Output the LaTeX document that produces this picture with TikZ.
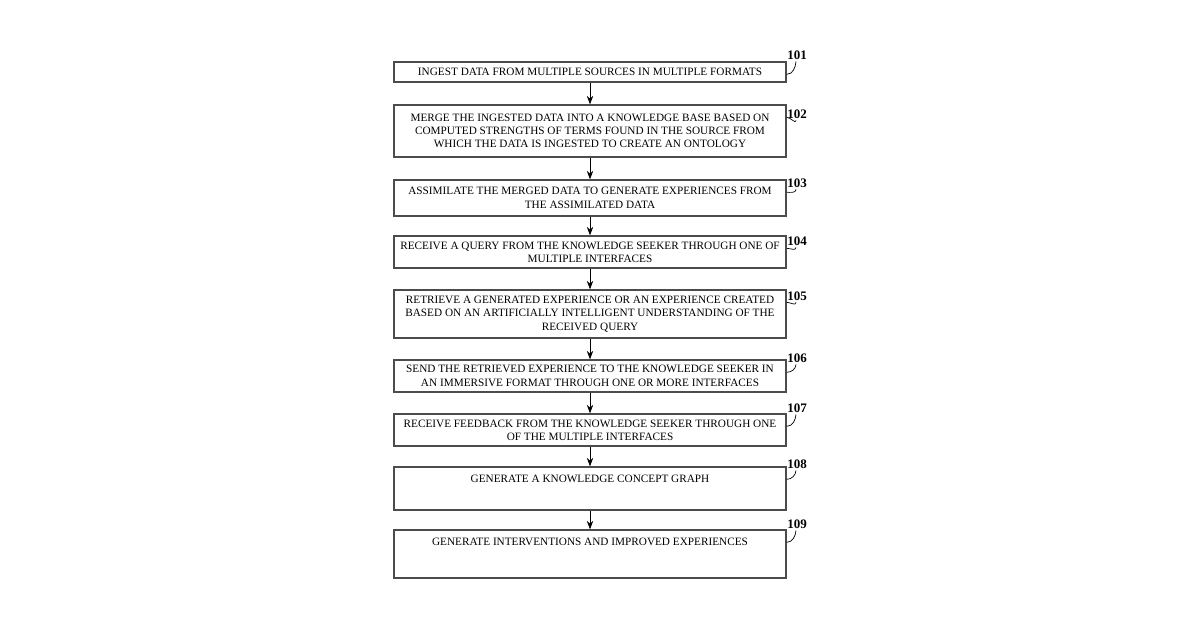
\documentclass[tikz,border=0pt]{standalone}
\usepackage{fontspec}
\setmainfont{Liberation Serif}
\usetikzlibrary{arrows.meta,positioning}
\tikzset{
  stepbox/.style = {draw=black!70, thick, minimum width=7.84cm, inner sep=0pt,
    align=center, font=\fontsize{6.4}{7.6}\selectfont},
  ref/.style = {font=\fontsize{7.4}{8}\selectfont\bfseries, inner sep=1pt},
  leader/.style = {-, thin}
}
\begin{document}
\begin{tikzpicture}[x=0.02cm,y=-0.02cm,>=Stealth]
\useasboundingbox (0,0) rectangle (1200,630);
\node [stepbox, minimum height=0.40cm] (s1) at (590,72) {INGEST DATA FROM MULTIPLE SOURCES IN MULTIPLE FORMATS};
\node [stepbox, minimum height=1.04cm] (s2) at (590,131) {MERGE THE INGESTED DATA INTO A KNOWLEDGE BASE BASED ON\\COMPUTED STRENGTHS OF TERMS FOUND IN THE SOURCE FROM\\WHICH THE DATA IS INGESTED TO CREATE AN ONTOLOGY};
\node [stepbox, minimum height=0.72cm] (s3) at (590,198) {ASSIMILATE THE MERGED DATA TO GENERATE EXPERIENCES FROM\\THE ASSIMILATED DATA};
\node [stepbox, minimum height=0.64cm] (s4) at (590,252) {RECEIVE A QUERY FROM THE KNOWLEDGE SEEKER THROUGH ONE OF\\MULTIPLE INTERFACES};
\node [stepbox, minimum height=0.96cm] (s5) at (590,314) {RETRIEVE A GENERATED EXPERIENCE OR AN EXPERIENCE CREATED\\BASED ON AN ARTIFICIALLY INTELLIGENT UNDERSTANDING OF THE\\RECEIVED QUERY};
\node [stepbox, minimum height=0.64cm] (s6) at (590,376) {SEND THE RETRIEVED EXPERIENCE TO THE KNOWLEDGE SEEKER IN\\AN IMMERSIVE FORMAT THROUGH ONE OR MORE INTERFACES};
\node [stepbox, minimum height=0.64cm] (s7) at (590,430) {RECEIVE FEEDBACK FROM THE KNOWLEDGE SEEKER THROUGH ONE\\OF THE MULTIPLE INTERFACES};
\node [stepbox, minimum height=0.86cm] (s8) at (590,488.5) {};
\node [stepbox, draw=none, minimum height=0pt] (t8) at (590,479) {GENERATE A KNOWLEDGE CONCEPT GRAPH};
\node [stepbox, minimum height=0.96cm] (s9) at (590,554) {};
\node [stepbox, draw=none, minimum height=0pt] (t9) at (590,542) {GENERATE INTERVENTIONS AND IMPROVED EXPERIENCES};

% arrows between steps
\foreach \a/\b in {s1/s2,s2/s3,s3/s4,s4/s5,s5/s6,s6/s7,s7/s8,s8/s9}
  \draw [->] (\a.south) -- (\b.north);

% reference numerals
\foreach \n/\y in {1/55,2/114,3/183,4/241,5/296,6/358,7/408,8/464,9/524}{
  \node [ref] (l\n) at (797,\y) {10\n};
  \draw [leader] ([yshift=-0.26cm]s\n.north east) to[out=0,in=-95] ([xshift=-0.02cm]l\n.south);
}
\end{tikzpicture}
\end{document}
